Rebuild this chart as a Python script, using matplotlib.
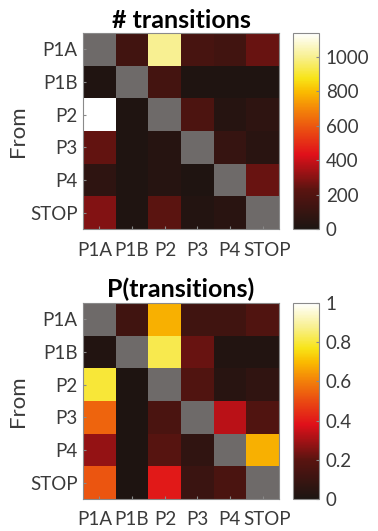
import numpy as np
import matplotlib
matplotlib.use("Agg")
import matplotlib.pyplot as plt
from matplotlib.colors import LinearSegmentedColormap
from matplotlib.transforms import ScaledTranslation

states = ["P1A", "P1B", "P2", "P3", "P4", "STOP"]

# transition counts (rows: from, cols: to); diagonal is undefined
counts = np.array([
    [np.nan, 140, 1000, 160, 140, 250],
    [20, np.nan, 150, 15, 15, 15],
    [1136, 15, np.nan, 180, 40, 70],
    [240, 15, 40, np.nan, 100, 50],
    [70, 15, 40, 15, np.nan, 250],
    [290, 15, 230, 30, 50, np.nan],
])

# transition probabilities
probs = np.array([
    [np.nan, 0.12, 0.68, 0.12, 0.12, 0.17],
    [0.02, np.nan, 0.82, 0.22, 0.02, 0.02],
    [0.80, 0.01, np.nan, 0.17, 0.04, 0.07],
    [0.55, 0.01, 0.15, np.nan, 0.33, 0.17],
    [0.28, 0.01, 0.19, 0.07, np.nan, 0.68],
    [0.52, 0.01, 0.40, 0.10, 0.15, np.nan],
])

count_ticks = [0, 200, 400, 600, 800, 1000]
count_max = 1136
prob_ticks = [0, 0.2, 0.4, 0.6, 0.8, 1]
prob_tick_labels = ["0", "0.2", "0.4", "0.6", "0.8", "1"]

plt.rcParams["font.family"] = ["Lato", "DejaVu Sans"]

cmap = LinearSegmentedColormap.from_list("darkhot", [
    (0.00, "#1c1512"),
    (0.20, "#5a1410"),
    (0.38, "#e0101a"),
    (0.50, "#ea4a12"),
    (0.62, "#f48a08"),
    (0.70, "#fabb00"),
    (0.77, "#f8e418"),
    (0.88, "#f8f090"),
    (1.00, "#ffffff"),
])
cmap.set_bad("#6e6a69")

tick_color = "#3a3a3a"
edge_color = "#8a8a8a"
label_size = 13.5
# small horizontal nudges (pixels) so the outer column labels don't collide
xlabel_nudge = [-5, 0, 1, 0, -1, 4]

fig = plt.figure(figsize=(3.78, 5.31), dpi=100)


def panel(ax_rect, cb_rect, data, vmax, title, ticks, ticklabels):
    ax = fig.add_axes(ax_rect)
    cax = fig.add_axes(cb_rect)
    im = ax.imshow(np.ma.masked_invalid(data), cmap=cmap, vmin=0, vmax=vmax,
                   aspect="auto", interpolation="nearest")
    ax.set_xticks(range(len(states)))
    ax.set_yticks(range(len(states)))
    ax.set_xticklabels(states)
    ax.set_yticklabels(states)
    ax.tick_params(axis="x", direction="in", length=2, pad=9, colors=edge_color,
                   labelcolor=tick_color, labelsize=label_size)
    ax.tick_params(axis="y", direction="in", length=2, pad=4, colors=edge_color,
                   labelcolor=tick_color, labelsize=label_size)
    for lbl, dx in zip(ax.get_xticklabels(), xlabel_nudge):
        lbl.set_transform(lbl.get_transform() +
                          ScaledTranslation(dx / 100, 0, fig.dpi_scale_trans))
    for s in ax.spines.values():
        s.set_color(edge_color)
    ax.set_ylabel("From", fontsize=16, color=tick_color, labelpad=1)
    ax.set_title(title, fontsize=18, fontweight="bold", pad=4)

    cb = fig.colorbar(im, cax=cax, ticks=ticks)
    cb.set_ticklabels(ticklabels)
    cb.outline.set_edgecolor(edge_color)
    cax.tick_params(direction="in", length=2, pad=5, colors=edge_color,
                    labelcolor=tick_color, labelsize=label_size)
    return ax


panel([0.2196, 0.5687, 0.5185, 0.369], [0.775, 0.5687, 0.0688, 0.369],
      counts, count_max, "# transitions", count_ticks, [str(t) for t in count_ticks])
panel([0.2196, 0.0603, 0.5185, 0.369], [0.775, 0.0603, 0.0688, 0.369],
      probs, 1.0, "P(transitions)", prob_ticks, prob_tick_labels)

fig.savefig("out.png", dpi=100)
